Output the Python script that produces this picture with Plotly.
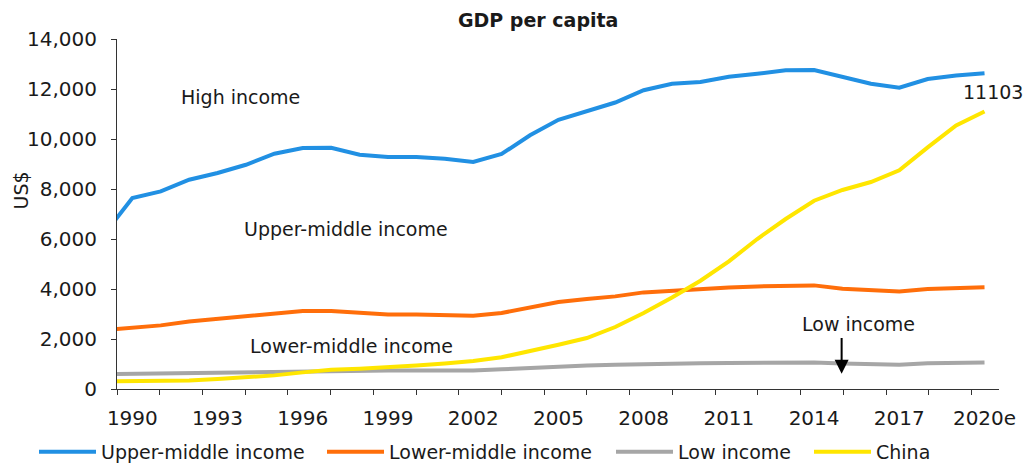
import plotly.graph_objects as go

years = list(range(1989, 2021))
upper_middle = [6180, 7640, 7905, 8370, 8640, 8970, 9410, 9640, 9650, 9370, 9280, 9280, 9210, 9080, 9400,
                10150, 10770, 11100, 11460, 11950, 12210, 12280, 12490, 12610, 12750, 12760, 12480, 12210, 12050,
                12400, 12540, 12630]
lower_middle = [2360, 2465, 2545, 2700, 2800, 2905, 3040, 3120, 3120, 3040, 2985, 2985, 2970, 2930, 3040,
                3260, 3480, 3600, 3705, 3865, 3945, 4010, 4065, 4105, 4145, 4145, 4012, 3945, 3905, 4000, 4050, 4070]
low_income = [595, 610, 625, 645, 660, 680, 700, 720, 740, 745, 740, 740, 740, 740, 790,
              850, 905, 940, 972, 1000, 1025, 1032, 1040, 1052, 1065, 1065, 1020, 995, 975, 1030, 1050, 1065]
china = [300, 305, 320, 345, 400, 465, 545, 665, 770, 812, 865, 945, 1025, 1120, 1270,
         1500, 1770, 2040, 2480, 3040, 3660, 4330, 5105, 6000, 6800, 7530, 7960, 8280, 8745, 9665, 10540, 11103]

label_years = [1990, 1993, 1996, 1999, 2002, 2005, 2008, 2011, 2014, 2017, 2020]
label_text = ["1990", "1993", "1996", "1999", "2002", "2005", "2008", "2011", "2014", "2017", "2020e"]
y_ticks = [0, 2000, 4000, 6000, 8000, 10000, 12000, 14000]

series = [
    ("Upper-middle income", upper_middle, "#2190E3", "legend2", 34),
    ("Lower-middle income", lower_middle, "#FF6E0A", "legend3", 322),
    ("Low income", low_income, "#A6A6A6", "legend4", 611),
    ("China", china, "#FFE600", "legend5", 809),
]

W, H = 1031, 465
axis_color = "#333333"
txt = "#1a1a1a"

fig = go.Figure()
legends = {}
for name, vals, color, lg, lx in series:
    fig.add_trace(go.Scatter(x=years, y=vals, mode="lines", name=name, legend=lg, showlegend=True,
                             line=dict(color=color, width=4)))
    legends[lg] = dict(orientation="h", xref="container", yref="container",
                       x=lx / W, xanchor="left", y=0.028, yanchor="middle", itemwidth=57,
                       font=dict(size=19, color=txt), bgcolor="rgba(0,0,0,0)")

fig.update_layout(
    width=W, height=H,
    showlegend=True,
    margin=dict(l=117, r=32, t=39, b=76, autoexpand=False),
    paper_bgcolor="white", plot_bgcolor="white",
    font=dict(family="DejaVu Sans", size=19, color=txt),
    title=dict(text="<b>GDP per capita</b>", x=0.522, xanchor="center",
               y=0.957, yanchor="middle", font=dict(size=19, color=txt)),
    xaxis=dict(range=[1989.46, 2020.51], showline=True, linecolor=axis_color, linewidth=1,
               tickmode="array", tickvals=label_years, ticktext=label_text, ticks="",
               tickfont=dict(size=20, color=txt), showgrid=False, zeroline=False,
               ticklabelstandoff=11, automargin=False,
               minor=dict(tickmode="linear", tick0=1989.46, dtick=1.504, ticks="outside",
                          ticklen=5, tickcolor=axis_color, tickwidth=1, showgrid=False)),
    yaxis=dict(range=[0, 14000], tickmode="array", tickvals=y_ticks, tickformat=",",
               showline=True, linecolor=axis_color, linewidth=1, ticks="outside", ticklen=5,
               tickcolor=axis_color, tickfont=dict(size=20, color=txt), showgrid=False,
               zeroline=False, ticklabelstandoff=10, automargin=False),
    **legends,
)

annots = [
    dict(text="High income", x=1993.79, y=11670),
    dict(text="Upper-middle income", x=1997.51, y=6410),
    dict(text="Lower-middle income", x=1997.71, y=1730),
    dict(text="Low income", x=2015.56, y=2600),
    dict(text="11103", x=2020.30, y=11870),
]
for a in annots:
    fig.add_annotation(x=a["x"], y=a["y"], xref="x", yref="y", text=a["text"], showarrow=False,
                       xanchor="center", yanchor="middle", font=dict(size=19, color=txt))

fig.add_annotation(x=2014.97, y=612, ax=2014.97, ay=2100, xref="x", yref="y", axref="x", ayref="y",
                   text="", showarrow=True, arrowhead=2, arrowsize=1.4, arrowwidth=2, arrowcolor="black")

fig.add_annotation(x=-0.109, y=0.567, xref="paper", yref="paper", text="US$", textangle=-90,
                   showarrow=False, xanchor="center", yanchor="middle", font=dict(size=19, color=txt))

fig.write_html("out.html", config={"displayModeBar": False},
               post_script="document.body.style.margin='0px';")
